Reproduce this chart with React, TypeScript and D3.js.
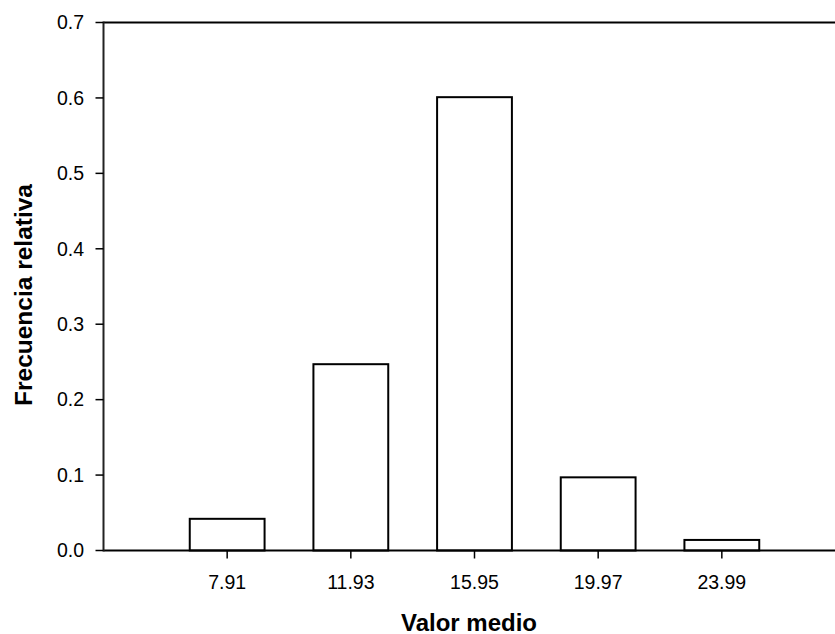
import React from "react";
import * as d3 from "d3";

// Histogram of mean values (bin midpoints) and their relative frequencies
const binMidpoints = [7.91, 11.93, 15.95, 19.97, 23.99];
const relativeFreq = [0.042, 0.247, 0.601, 0.097, 0.014];
const yTicks = [0, 0.1, 0.2, 0.3, 0.4, 0.5, 0.6, 0.7];
const binWidth = 4.02;

const W = 835;
const H = 634;
const left = 103.5;
const top = 22.5;
const bottom = 550.5;

export default function App() {
  const x = d3
    .scaleLinear()
    .domain([binMidpoints[0] - binWidth, binMidpoints[binMidpoints.length - 1] + binWidth])
    .range([left, 845.5]);
  const y = d3.scaleLinear().domain([0, 0.7]).range([bottom, top]);
  const barW = x(binWidth * 0.605) - x(0);
  const font = "Arial, 'Liberation Sans', sans-serif";

  return (
    <svg
      width={W}
      height={H}
      style={{ position: "absolute", left: 0, top: 0, background: "#fff" }}
      fontFamily={font}
    >
      {/* bars */}
      {binMidpoints.map((m, i) => (
        <rect
          key={m}
          x={x(m) - barW / 2}
          y={y(relativeFreq[i])}
          width={barW}
          height={y(0) - y(relativeFreq[i])}
          fill="#fff"
          stroke="#000"
          strokeWidth={2}
        />
      ))}

      {/* frame: top and bottom lines, left axis */}
      <line x1={left} x2={W} y1={top} y2={top} stroke="#000" strokeWidth={2} />
      <line x1={left} x2={W} y1={bottom} y2={bottom} stroke="#000" strokeWidth={2} />
      <line x1={left} x2={left} y1={top - 1} y2={bottom + 1} stroke="#222" strokeWidth={2} />

      {/* y ticks */}
      {yTicks.map((t) => (
        <g key={t}>
          <line x1={left - 8} x2={left} y1={y(t)} y2={y(t)} stroke="#000" strokeWidth={1.5} />
          <text x={84} y={y(t)} dy="0.35em" textAnchor="end" fontSize={19.5} fill="#000">
            {t.toFixed(1)}
          </text>
        </g>
      ))}

      {/* x ticks */}
      {binMidpoints.map((m) => (
        <g key={m}>
          <line x1={x(m)} x2={x(m)} y1={bottom} y2={bottom + 8} stroke="#000" strokeWidth={1.5} />
          <text x={x(m)} y={589} textAnchor="middle" fontSize={19.5} fill="#000">
            {m.toFixed(2)}
          </text>
        </g>
      ))}

      {/* axis titles */}
      <text x={469} y={631} textAnchor="middle" fontSize={24} fontWeight="bold" fill="#000">
        Valor medio
      </text>
      <text
        transform="translate(32, 295) rotate(-90)"
        textAnchor="middle"
        fontSize={24.5}
        fontWeight="bold"
        fill="#000"
      >
        Frecuencia relativa
      </text>
    </svg>
  );
}
